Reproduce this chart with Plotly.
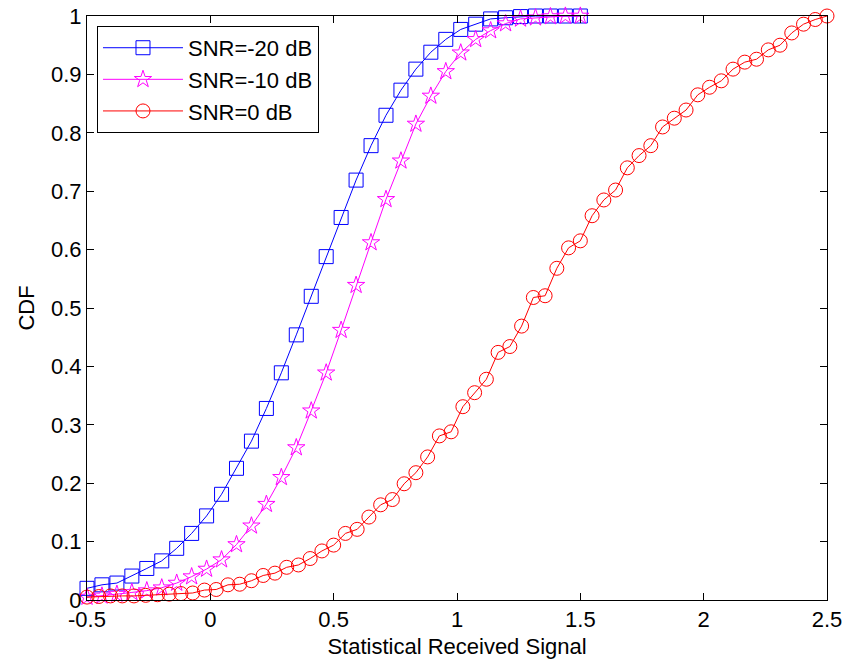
import numpy as np
import plotly.graph_objects as go

# x grids (evenly spaced sample points)
x_grid_34 = np.linspace(-0.5, 1.5, 34)
x_grid_64 = np.linspace(-0.5, 2.5, 64)

snr_m20 = [0.020, 0.026, 0.029, 0.041, 0.054, 0.067, 0.0885, 0.114, 0.144, 0.181,
           0.2255, 0.272, 0.328, 0.389, 0.454, 0.520, 0.588, 0.655, 0.719, 0.778,
           0.830, 0.873, 0.909, 0.938, 0.960, 0.977, 0.986, 0.995, 0.997, 0.999,
           1.0, 1.0, 1.0, 1.0]

snr_m10 = [0.005, 0.007, 0.010, 0.013, 0.016, 0.021, 0.029, 0.040, 0.053, 0.069,
           0.095, 0.127, 0.164, 0.210, 0.261, 0.324, 0.389, 0.462, 0.539, 0.612,
           0.686, 0.752, 0.815, 0.863, 0.905, 0.937, 0.960, 0.975, 0.987, 0.995,
           0.997, 0.999, 1.0, 1.0]

snr_0 = [0.005, 0.006, 0.007, 0.007, 0.007, 0.008, 0.009, 0.010, 0.011, 0.012,
         0.017, 0.018, 0.026, 0.027, 0.033, 0.042, 0.046, 0.056, 0.060, 0.071,
         0.084, 0.094, 0.114, 0.121, 0.142, 0.163, 0.172, 0.199, 0.218, 0.245,
         0.281, 0.288, 0.331, 0.355, 0.378, 0.424, 0.434, 0.469, 0.518, 0.521,
         0.568, 0.603, 0.615, 0.658, 0.685, 0.702, 0.740, 0.761, 0.778, 0.810,
         0.825, 0.839, 0.865, 0.878, 0.889, 0.909, 0.921, 0.926, 0.942, 0.950,
         0.971, 0.986, 0.994, 1.0]

series_names = ["SNR=-20 dB", "SNR=-10 dB", "SNR=0 dB"]
x_ticks = [-0.5, 0, 0.5, 1, 1.5, 2, 2.5]
x_tick_labels = ["-0.5", "0", "0.5", "1", "1.5", "2", "2.5"]
y_ticks = [0, 0.1, 0.2, 0.3, 0.4, 0.5, 0.6, 0.7, 0.8, 0.9, 1]
y_tick_labels = ["0", "0.1", "0.2", "0.3", "0.4", "0.5", "0.6", "0.7", "0.8", "0.9", "1"]

FONT = "Liberation Sans, Arial, sans-serif"
FS = 22

fig = go.Figure()
fig.add_trace(go.Scatter(x=x_grid_34, y=snr_m20, name=series_names[0], mode="lines+markers",
                         line=dict(color="#0000FF", width=1),
                         marker=dict(symbol="square-open", size=14, color="#0000FF", line=dict(width=1)),
                         cliponaxis=False))
fig.add_trace(go.Scatter(x=x_grid_34, y=snr_m10, name=series_names[1], mode="lines+markers",
                         line=dict(color="#FF00FF", width=1),
                         marker=dict(symbol="star-open", size=13, color="#FF00FF", line=dict(width=1)),
                         cliponaxis=False))
fig.add_trace(go.Scatter(x=x_grid_64, y=snr_0, name=series_names[2], mode="lines+markers",
                         line=dict(color="#FF0000", width=1),
                         marker=dict(symbol="circle-open", size=14, color="#FF0000", line=dict(width=1)),
                         cliponaxis=False))

axis_common = dict(showgrid=False, zeroline=False, showline=True, linecolor="black", linewidth=1,
                   mirror="ticks", ticks="inside", ticklen=7, tickcolor="black", tickwidth=1,
                   automargin=False, ticklabeloverflow="allow",
                   tickfont=dict(family=FONT, size=FS, color="black"))

fig.update_xaxes(range=[-0.5, 2.5], tickvals=x_ticks, ticktext=x_tick_labels,
                 title=dict(text="Statistical Received Signal", font=dict(family=FONT, size=FS, color="black"),
                            standoff=7),
                 **axis_common)
fig.update_yaxes(range=[0, 1], tickvals=y_ticks, ticktext=y_tick_labels,
                 title=dict(text="CDF", font=dict(family=FONT, size=FS, color="black"), standoff=10),
                 **axis_common)

fig.update_layout(
    width=845, height=661,
    margin=dict(l=87, r=18, t=16, b=61),
    plot_bgcolor="white", paper_bgcolor="white",
    font=dict(family=FONT, size=FS, color="black"),
    legend=dict(x=0.0135, y=0.983, xanchor="left", yanchor="top",
                bgcolor="white", bordercolor="black", borderwidth=1,
                font=dict(family=FONT, size=FS, color="black"),
                itemwidth=80, tracegroupgap=0),
    showlegend=True,
)

# remove the default 8px page margin so the figure fills the window exactly
fig.write_html("out.html",
               config={"displayModeBar": False},
               post_script="document.body.style.margin='0';document.body.style.overflow='hidden';")
